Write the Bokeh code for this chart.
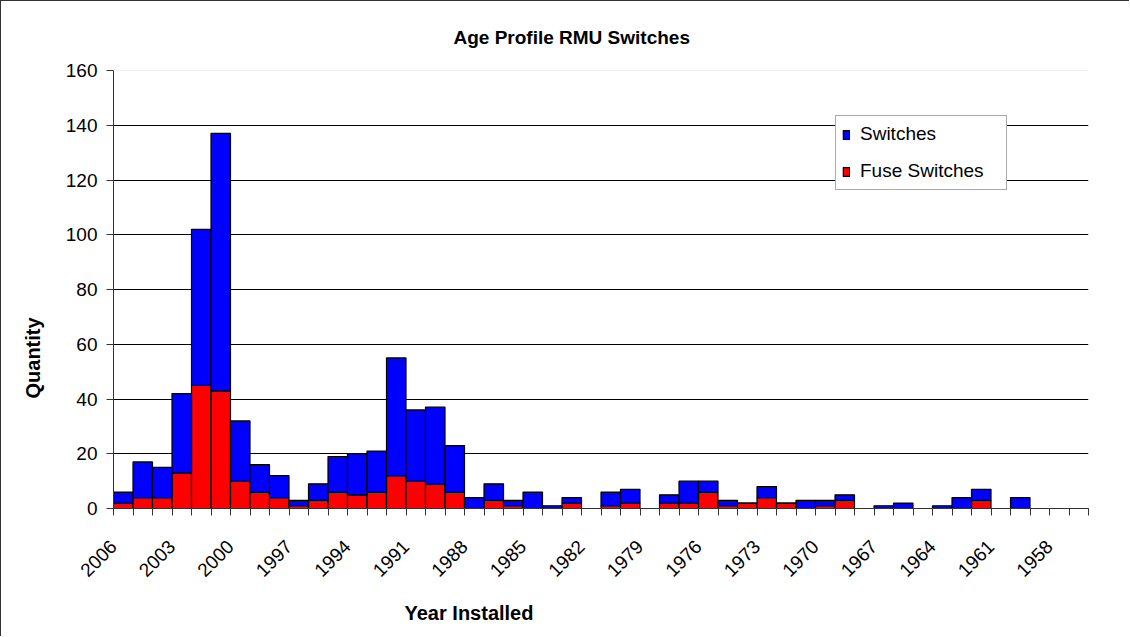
import math
from bokeh.plotting import figure
from bokeh.models import (ColumnDataSource, FixedTicker, Range1d, Span, Title,
                          Legend, LegendItem)
from bokeh.embed import file_html
from bokeh.resources import INLINE

# ---- data ----
years = list(range(2006, 1956, -1))  # 50 categories, 2006 .. 1957
totals = [6, 17, 15, 42, 102, 137, 32, 16, 12, 3,
          9, 19, 20, 21, 55, 36, 37, 23, 4, 9,
          3, 6, 1, 4, 0, 6, 7, 0, 5, 10,
          10, 3, 2, 8, 2, 3, 3, 5, 0, 1,
          2, 0, 1, 4, 7, 0, 4, 0, 0, 0]
fuse_switches = [2, 4, 4, 13, 45, 43, 10, 6, 4, 1,
                 3, 6, 5, 6, 12, 10, 9, 6, 0, 3,
                 1, 0, 0, 2, 0, 1, 2, 0, 2, 2,
                 6, 1, 2, 4, 2, 0, 1, 3, 0, 0,
                 0, 0, 0, 0, 3, 0, 0, 0, 0, 0]
switches = [t - f for t, f in zip(totals, fuse_switches)]
y_ticks = [0, 20, 40, 60, 80, 100, 120, 140, 160]
label_every = 3

FONT = "Liberation Sans"

src = ColumnDataSource(dict(
    x=[i + 0.5 for i in range(len(years))],
    year=[str(y) for y in years],
    fuse=fuse_switches,
    switches=switches,
))

p = figure(width=1129, height=636, output_backend="svg", toolbar_location=None,
           x_range=Range1d(0, len(years)), y_range=Range1d(0, 160),
           min_border_left=112, min_border_right=42, min_border_top=69,
           min_border_bottom=129)
p.styles = {"border-top": "1px solid #333", "border-left": "1px solid #333"}
p.outline_line_color = None
p.background_fill_color = "white"
p.border_fill_color = "white"

renderers = p.vbar_stack(["fuse", "switches"], x="x", width=1, source=src,
                         fill_color=["#FF0000", "#0000FF"], line_color="black",
                         line_width=1.2)

# title
p.add_layout(Title(text="Age Profile RMU Switches", align="left", offset=340,
                   text_font=FONT, text_font_size="19px", text_color="black",
                   text_font_style="bold", standoff=46), "above")

# axes
yaxis = p.yaxis[0]
yaxis.ticker = FixedTicker(ticks=y_ticks)
yaxis.major_label_text_font = FONT
yaxis.major_label_text_font_size = "19px"
yaxis.major_label_text_color = "black"
yaxis.major_tick_out = 7
yaxis.major_tick_in = 0
yaxis.minor_tick_line_color = None
yaxis.major_label_standoff = 9
yaxis.axis_line_color = "#333"
yaxis.major_tick_line_color = "#333"

xaxis = p.xaxis[0]
xaxis.ticker = FixedTicker(ticks=list(range(len(years) + 1)))
overrides = {}
for i in range(len(years) + 1):
    if i < len(years) and i % label_every == 0:
        overrides[i] = str(years[i])
    else:
        overrides[i] = ""
xaxis.major_label_overrides = overrides
xaxis.major_label_orientation = math.pi / 4
xaxis.major_label_text_font = FONT
xaxis.major_label_text_font_size = "19px"
xaxis.major_label_text_color = "black"
xaxis.major_tick_out = 7
xaxis.major_tick_in = 0
xaxis.minor_tick_line_color = None
xaxis.major_label_standoff = 28
xaxis.axis_line_color = "#333"
xaxis.major_tick_line_color = "#333"

p.add_layout(Title(text="Year Installed", align="left", offset=291,
                   text_font=FONT, text_font_size="20px", text_color="black",
                   text_font_style="bold", standoff=28), "below")
p.add_layout(Title(text="Quantity", align="left", offset=110,
                   text_font=FONT, text_font_size="20px", text_color="black",
                   text_font_style="bold", standoff=37), "left")

# grid
p.xgrid.grid_line_color = None
p.ygrid.ticker = FixedTicker(ticks=y_ticks[1:-1])
p.ygrid.grid_line_color = "black"
p.ygrid.grid_line_width = 1
p.add_layout(Span(location=160, dimension="width", line_color="#dddddd",
                  line_width=1))

# legend
legend = Legend(items=[LegendItem(label="Switches", renderers=[renderers[1]]),
                       LegendItem(label="Fuse Switches", renderers=[renderers[0]])],
                location=(722, 318), orientation="vertical")
legend.label_text_font = FONT
legend.label_text_font_size = "19px"
legend.label_text_color = "black"
legend.glyph_width = 8
legend.glyph_height = 11
legend.label_height = 24
legend.label_width = 140
legend.spacing = 13
legend.padding = 6
legend.label_standoff = 10
legend.border_line_color = "#555"
legend.border_line_width = 1
legend.background_fill_alpha = 1
p.add_layout(legend)

open("out.html", "w").write(file_html(p, INLINE))
